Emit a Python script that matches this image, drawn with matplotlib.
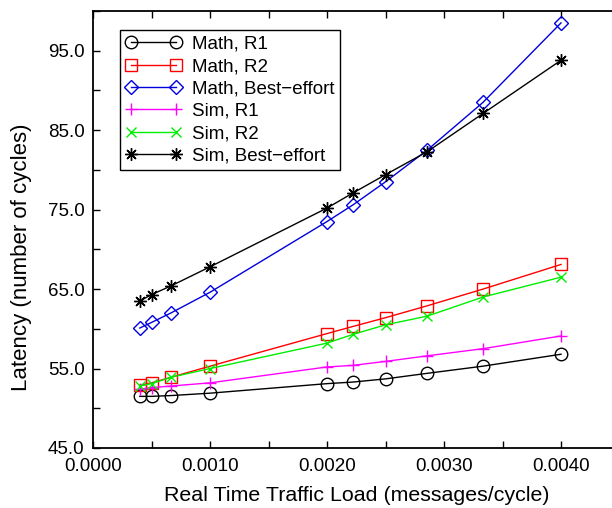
import matplotlib
matplotlib.use("Agg")
import matplotlib.pyplot as plt
from matplotlib.ticker import FormatStrFormatter, MultipleLocator

plt.rcParams['font.family'] = ['Liberation Sans', 'DejaVu Sans']

load = [1/2500, 1/2000, 1/1500, 1/1000, 1/500, 1/450, 1/400, 1/350, 1/300, 1/250]

math_r1 = [51.5, 51.5, 51.6, 51.9, 53.1, 53.3, 53.7, 54.4, 55.3, 56.8]
math_r2 = [52.9, 53.2, 53.9, 55.3, 59.4, 60.3, 61.4, 62.9, 65.0, 68.1]
math_be = [60.1, 60.8, 62.0, 64.6, 73.5, 75.6, 78.5, 82.5, 88.5, 98.5]
sim_r1 = [52.4, 52.6, 52.8, 53.2, 55.2, 55.4, 55.9, 56.6, 57.5, 59.1]
sim_r2 = [52.8, 53.1, 53.9, 55.0, 58.2, 59.3, 60.5, 61.6, 64.0, 66.5]
sim_be = [63.5, 64.3, 65.4, 67.8, 75.2, 77.1, 79.4, 82.3, 87.1, 93.8]

y_major = [45, 55, 65, 75, 85, 95]
y_minor = [50, 60, 70, 80, 90, 100]

series = [
    ("Math, R1", math_r1, "black", "o"),
    ("Math, R2", math_r2, "red", "s"),
    ("Math, Best\u2212effort", math_be, "#0000dd", "D"),
    ("Sim, R1", sim_r1, "#ff00ff", "+"),
    ("Sim, R2", sim_r2, "#00ee00", "x"),
    ("Sim, Best\u2212effort", sim_be, "black", "*"),
]

fig = plt.figure(figsize=(6.12, 5.08), dpi=100)
ax = fig.add_axes([93/612, 60/508, (619.5-93)/612, (448-11)/508])

for label, vals, color, mk in series:
    kw = dict(color=color, lw=1.0, marker=mk, label=label)
    if mk in "osD":
        kw.update(mfc="none", mec=color, mew=1.0,
                  ms={"o": 9, "s": 8, "D": 7}[mk])
    elif mk == "*":
        kw.update(marker=(8, 2, 0), ms=9, mew=1.0, mec=color)
    elif mk == "+":
        kw.update(ms=9, mew=1.0)
    else:
        kw.update(ms=7, mew=1.0)
    ax.plot(load, vals, **kw)

ax.set_xlim(0, 0.0045)
ax.set_ylim(45, 100)
ax.xaxis.set_major_locator(MultipleLocator(0.001))
ax.xaxis.set_minor_locator(MultipleLocator(0.0005))
ax.set_yticks(y_major)
ax.set_yticks(y_minor, minor=True)
ax.yaxis.set_major_formatter(FormatStrFormatter('%.1f'))
ax.xaxis.set_major_formatter(FormatStrFormatter('%.4f'))
ax.tick_params(which='both', direction='in', top=True, right=True,
               length=5, width=1.0, labelsize=13.5, pad=6)
ax.tick_params(axis='x', pad=7)
for sp in ax.spines.values():
    sp.set_linewidth(1.3)

ax.set_xlabel("Real Time Traffic Load (messages/cycle)", fontsize=15.4, labelpad=8)
ax.set_ylabel("Latency (number of cycles)", fontsize=16)
ax.yaxis.set_label_coords(-0.116, 0.437)

leg = ax.legend(loc='upper left', bbox_to_anchor=(27/526.5, 1 - 19/437), fontsize=13.5,
                handlelength=3.0, numpoints=2, fancybox=False, framealpha=1,
                edgecolor='black', borderpad=0.3, labelspacing=0.28,
                handletextpad=0.55, borderaxespad=0)
leg.get_frame().set_linewidth(1.0)

fig.savefig("out.png", dpi=100)
